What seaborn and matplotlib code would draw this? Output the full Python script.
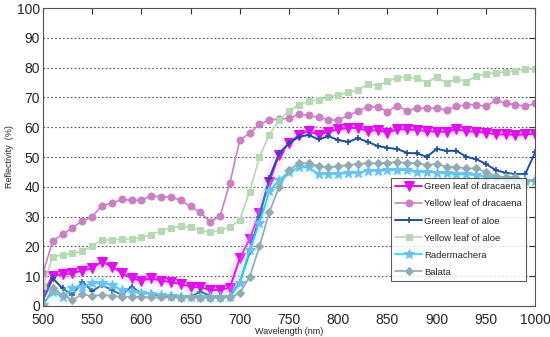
# reflectivity spectra of leaves
import numpy as np
import pandas as pd
import matplotlib
matplotlib.use('Agg')
import matplotlib.pyplot as plt
import seaborn as sns

wavelength = list(range(500, 1001, 10))

green_dracaena = [3.9, 10.2, 10.6, 11.0, 11.9, 12.7, 14.9, 13.2, 11.2, 9.3,
                  8.5, 9.3, 8.5, 8.0, 7.4, 6.5, 6.3, 5.4, 5.4, 6.2,
                  16.0, 22.5, 31.3, 41.7, 50.8, 54.7, 57.4, 58.8, 57.4, 58.5,
                  59.3, 59.7, 59.8, 58.7, 59.1, 58.2, 59.3, 59.3, 59.1, 58.7,
                  58.5, 58.5, 59.3, 58.7, 58.5, 58.2, 57.6, 57.6, 57.4, 57.6, 57.9]
yellow_dracaena = [11.0, 21.8, 24.0, 26.3, 28.5, 30.0, 33.7, 34.5, 35.8, 35.5,
                   35.5, 37.0, 36.6, 36.6, 35.5, 33.4, 31.4, 28.3, 30.2, 41.4,
                   55.7, 58.0, 61.0, 62.4, 62.8, 63.0, 64.3, 64.0, 63.3, 62.6,
                   62.3, 64.0, 65.3, 66.9, 66.8, 65.2, 67.3, 65.5, 66.4, 66.4,
                   66.4, 65.8, 67.0, 67.6, 67.6, 67.0, 69.0, 68.0, 67.6, 67.0, 68.0]
green_aloe = [2.0, 9.3, 5.9, 3.7, 8.2, 5.0, 7.0, 5.4, 3.7, 6.5,
              4.3, 4.3, 3.1, 3.7, 3.4, 3.1, 4.8, 3.4, 3.1, 3.1,
              8.0, 18.0, 30.0, 43.0, 51.3, 54.6, 56.8, 57.4, 55.9, 57.0,
              55.7, 55.1, 56.3, 55.1, 53.7, 53.1, 52.7, 51.4, 51.2, 50.1,
              52.7, 52.1, 52.1, 50.1, 49.3, 47.7, 45.6, 44.7, 44.3, 44.3, 51.6]
yellow_aloe = [6.7, 16.6, 17.1, 17.7, 18.3, 20.2, 22.2, 22.2, 22.4, 22.5,
               23.0, 23.9, 25.3, 26.3, 26.7, 26.4, 25.5, 24.7, 25.5, 26.4,
               28.9, 38.4, 50.0, 57.5, 62.5, 65.5, 67.5, 68.7, 69.2, 70.1,
               70.9, 71.7, 72.5, 74.5, 74.0, 75.4, 76.7, 76.8, 76.5, 75.0,
               77.0, 74.7, 76.3, 75.3, 77.2, 77.9, 78.3, 78.6, 78.8, 79.6, 79.6]
radermachera = [0.5, 4.8, 3.1, 5.9, 6.5, 7.6, 7.8, 7.0, 5.4, 4.8,
                4.3, 4.0, 3.7, 3.4, 3.1, 2.9, 3.1, 2.9, 2.9, 3.1,
                7.6, 18.8, 28.0, 38.5, 42.3, 45.0, 46.5, 46.5, 44.3, 44.3,
                44.3, 44.7, 44.7, 45.4, 45.4, 45.6, 45.6, 45.6, 45.0, 45.0,
                44.7, 44.5, 44.2, 44.2, 43.9, 43.4, 42.8, 42.5, 42.3, 42.0, 42.0]
balata = [0.0, 5.9, 3.7, 2.0, 3.9, 3.4, 3.7, 3.4, 3.1, 3.1,
          3.1, 2.9, 2.9, 2.9, 2.8, 2.9, 2.8, 2.8, 2.8, 2.9,
          4.3, 9.8, 20.0, 31.5, 40.0, 45.6, 47.9, 47.9, 47.0, 46.5,
          47.0, 47.3, 47.7, 47.9, 47.9, 48.1, 48.4, 48.0, 47.9, 47.3,
          47.7, 46.7, 46.7, 46.2, 46.2, 45.0, 43.6, 43.2, 43.4, 41.7, 42.3]

labels = ['Green leaf of dracaena', 'Yellow leaf of dracaena', 'Green leaf of aloe',
          'Yellow leaf of aloe', 'Radermachera', 'Balata']
series = [green_dracaena, yellow_dracaena, green_aloe, yellow_aloe, radermachera, balata]

styles = {
    'Green leaf of dracaena': dict(color='#e010ee', marker='v', ms=6.5, lw=1.4, mec='#e010ee'),
    'Yellow leaf of dracaena': dict(color='#cc80c4', marker='o', ms=5, lw=1.2, mec='#cc80c4'),
    'Green leaf of aloe': dict(color='#1f50a0', marker='+', ms=5, lw=1.4, mew=1.2, mec='#1f50a0'),
    'Yellow leaf of aloe': dict(color='#b6d8b2', marker='s', ms=4.5, lw=1.2, mec='#b6d8b2'),
    'Radermachera': dict(color='#10e0ea', marker='*', ms=7.5, lw=1.2, mfc='#6ec0f0', mec='#6ec0f0'),
    'Balata': dict(color='#93aab2', marker='D', ms=4, lw=1.2, mec='#93aab2'),
}
halos = {'Green leaf of dracaena': '#ffa8f2', 'Radermachera': '#a8f4f8'}

sns.set_style('white')
plt.rcParams['font.family'] = ['Liberation Sans', 'DejaVu Sans']

fig = plt.figure(figsize=(5.5, 3.37), dpi=100)
ax = fig.add_axes([0.078, 0.092, 0.895, 0.884])

for name, vals in zip(labels, series):
    df = pd.DataFrame({'Wavelength': wavelength, 'Reflectivity': vals})
    if name in halos:
        sns.lineplot(data=df, x='Wavelength', y='Reflectivity', ax=ax, color=halos[name],
                     lw=9, alpha=0.22, linestyle='-', legend=False, solid_capstyle='butt')
    sns.lineplot(data=df, x='Wavelength', y='Reflectivity', ax=ax, label=name,
                 linestyle='-', **styles[name])

ax.set_xlim(500, 1000)
ax.set_ylim(0, 100)
ax.set_xticks(np.arange(500, 1001, 50))
ax.set_yticks(np.arange(0, 101, 10))
ax.tick_params(axis='both', direction='in', labelsize=10, length=4, color='#333333',
               top=True, right=True)
ax.tick_params(axis='x', pad=5)
ax.tick_params(axis='y', pad=2)
ax.yaxis.grid(True, linestyle=(0, (1.5, 2)), color='#555555', lw=0.8)
ax.xaxis.grid(False)
for sp in ax.spines.values():
    sp.set_color('#555555')
    sp.set_linewidth(0.8)
ax.set_xlabel('Wavelength (nm)', fontsize=6.5, labelpad=0)
ax.set_ylabel('Reflectivity  (%)', fontsize=6.5, labelpad=2)

leg = ax.legend(loc='lower left', bbox_to_anchor=(0.697, 0.067), fontsize=6.8,
                frameon=True, fancybox=False, edgecolor='#333333', handlelength=2.8,
                handletextpad=0.2, labelspacing=0.85, borderpad=0.5)
leg.get_frame().set_linewidth(0.8)

fig.savefig('out.png', dpi=100)
